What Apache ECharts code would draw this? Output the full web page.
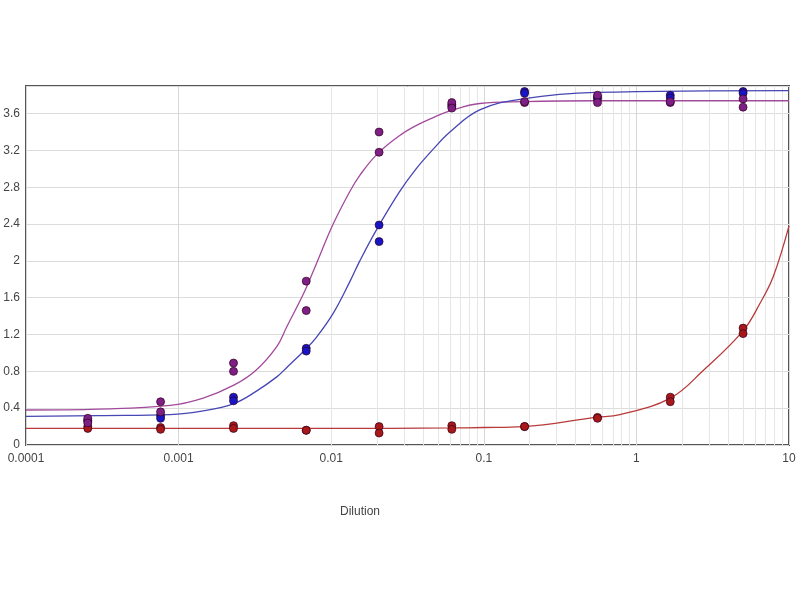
<!DOCTYPE html>
<html>
<head>
<meta charset="utf-8">
<script src="https://cdn.jsdelivr.net/npm/echarts@6/dist/echarts.min.js"></script>
<style>
  html, body { margin: 0; padding: 0; background: #fff; }
  #main { width: 800px; height: 600px; }
</style>
</head>
<body>
<div id="main"></div>
<script>
// dilution steps (3-fold)
var dilutions = [0.000254, 0.000762, 0.00229, 0.00686, 0.0206, 0.0617, 0.185, 0.556, 1.667, 5];

// replicate readings per dilution
var purpleA = [0.29, 0.47, 0.89, 1.78, 3.40, 3.72, 3.72, 3.80, 3.72, 3.76];
var purpleB = [0.24, 0.36, 0.80, 1.46, 3.18, 3.66, 3.73, 3.72, 3.73, 3.67];
var blueA   = [0.27, 0.32, 0.52, 1.05, 2.39, 3.70, 3.84, 3.78, 3.80, 3.84];
var blueB   = [0.26, 0.29, 0.48, 1.02, 2.21, 3.68, 3.82, 3.76, 3.77, 3.82];
var redA    = [0.20, 0.19, 0.21, 0.16, 0.20, 0.21, 0.20, 0.30, 0.52, 1.27];
var redB    = [0.18, 0.17, 0.18, 0.16, 0.13, 0.17, 0.20, 0.29, 0.47, 1.21];

// fitted curves
var fitX      = [0.0001, 0.0003, 0.00088, 0.00145, 0.0023, 0.0032, 0.0044, 0.0051, 0.0067, 0.008, 0.0103, 0.0133, 0.0154, 0.02, 0.028, 0.036, 0.047, 0.06, 0.094, 0.18, 0.54, 10];
var purpleFit = [0.38, 0.39, 0.43, 0.51, 0.65, 0.81, 1.07, 1.28, 1.67, 1.97, 2.40, 2.76, 2.93, 3.16, 3.36, 3.47, 3.56, 3.63, 3.71, 3.73, 3.74, 3.74];
var blueFit   = [0.31, 0.32, 0.33, 0.37, 0.45, 0.58, 0.74, 0.84, 1.03, 1.17, 1.43, 1.78, 2.00, 2.35, 2.75, 3.00, 3.22, 3.40, 3.64, 3.76, 3.83, 3.85];
var redFitX   = [0.0001, 0.01, 0.06, 0.1, 0.18, 0.54, 0.78, 1.67, 2.74, 5, 6.46, 7.89, 10];
var redFit    = [0.18, 0.18, 0.185, 0.19, 0.20, 0.30, 0.33, 0.51, 0.81, 1.24, 1.54, 1.83, 2.38];

var xTicks = [0.0001, 0.001, 0.01, 0.1, 1, 10];

function pairs(xs, ys) {
    return xs.map(function (x, i) { return [x, ys[i]]; });
}

// minor log grid lines 2..9 in each decade
var minorLines = [];
for (var d = 0; d < xTicks.length - 1; d++) {
    for (var k = 2; k <= 9; k++) {
        minorLines.push({ xAxis: xTicks[d] * k });
    }
}

var chart = echarts.init(document.getElementById('main'));

function curve(data, color) {
    return {
        type: 'line',
        data: data,
        smooth: 0.4,
        showSymbol: false,
        symbol: 'none',
        silent: true,
        lineStyle: { color: color, width: 1.3 },
        z: 2
    };
}

function dots(data, color) {
    return {
        type: 'scatter',
        data: data,
        symbolSize: 8,
        itemStyle: { color: color, opacity: 1, borderColor: 'rgba(50,0,30,0.7)', borderWidth: 1 },
        z: 3
    };
}

var option = {
    animation: false,
    backgroundColor: '#fff',
    textStyle: { fontFamily: 'Liberation Sans, Arial, sans-serif' },
    grid: {
        left: 26,
        right: 11,
        top: 86,
        bottom: 155,
        show: true,
        borderColor: '#555',
        borderWidth: 2
    },
    xAxis: {
        type: 'log',
        logBase: 10,
        min: 0.0001,
        max: 10,
        axisLine: { show: false },
        axisTick: { show: false },
        axisLabel: {
            color: '#444',
            fontSize: 12,
            margin: 8,
            formatter: function (v) { return String(Number(v.toPrecision(3))); }
        },
        splitLine: { show: true, lineStyle: { color: '#d6d6d6', width: 1 } }
    },
    yAxis: {
        type: 'value',
        min: 0,
        max: 3.9,
        interval: 0.4,
        axisLine: { show: false },
        axisTick: { show: false },
        axisLabel: {
            color: '#444',
            fontSize: 12,
            margin: 6,
            showMaxLabel: false,
            formatter: function (v) { return String(Number(v.toFixed(1))); }
        },
        splitLine: { show: true, lineStyle: { color: '#dcdcdc', width: 1 } }
    },
    graphic: [{
        type: 'text',
        left: 340,
        top: 506,
        style: { text: 'Dilution', fontSize: 12, fill: '#444', fontFamily: 'Liberation Sans, Arial, sans-serif' }
    }],
    series: [
        {
            type: 'line',
            data: [[0.0001, 0]],
            symbol: 'none',
            lineStyle: { opacity: 0 },
            silent: true,
            z: 0,
            markLine: {
                z: 0,
                silent: true,
                symbol: ['none', 'none'],
                label: { show: false },
                lineStyle: { color: '#e6e6e6', type: 'solid', width: 1 },
                data: minorLines
            }
        },
        curve(pairs(fitX, purpleFit), '#a24a9c'),
        curve(pairs(fitX, blueFit), '#4646b4'),
        curve(pairs(redFitX, redFit), '#b83a3a'),
        dots(pairs(dilutions, redA), '#a81818'),
        dots(pairs(dilutions, redB), '#a81818'),
        dots(pairs(dilutions, blueA), '#1616c8'),
        dots(pairs(dilutions, blueB), '#1616c8'),
        dots(pairs(dilutions, purpleA), '#7e1f86'),
        dots(pairs(dilutions, purpleB), '#7e1f86')
    ]
};

chart.setOption(option);
</script>
</body>
</html>
